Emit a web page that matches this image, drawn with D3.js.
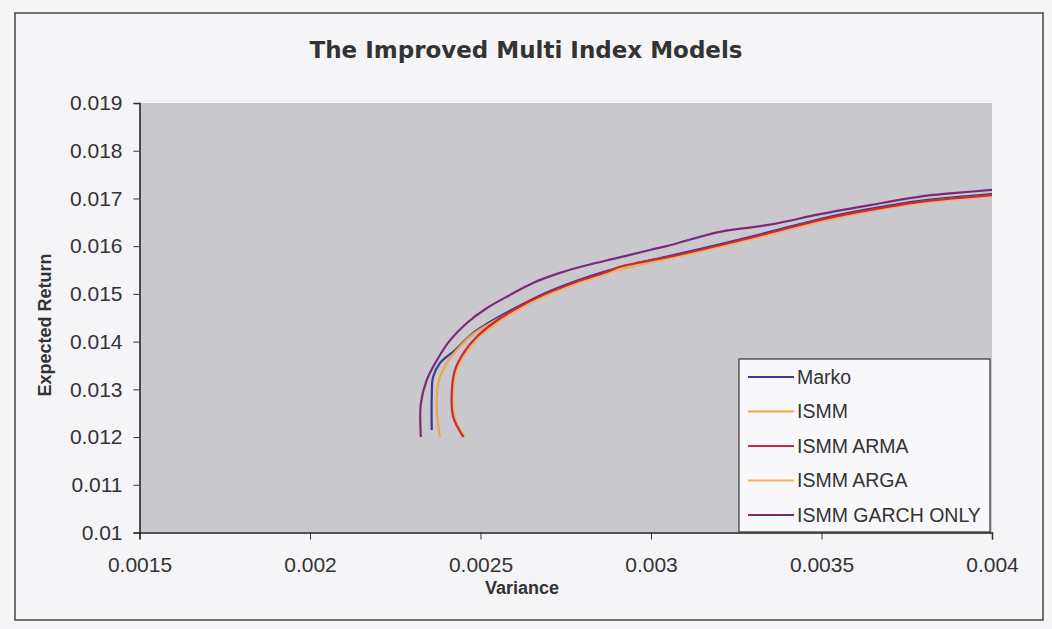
<!DOCTYPE html>
<html>
<head>
<meta charset="utf-8">
<script src="https://d3js.org/d3.v7.min.js"></script>
<style>
  body { margin: 0; background: #f5f5f7; }
  text { font-family: "Liberation Sans", Arial, sans-serif; fill: #333; }
  .tick-label { font-size: 21px; }
  .axis-label { font-size: 18px; font-weight: bold; }
  .title { font-family: "DejaVu Sans", Verdana, sans-serif; font-size: 23px; font-weight: bold; }
  .legend-text { font-size: 19.5px; }
</style>
</head>
<body>
<svg width="1052" height="629"></svg>
<script>
// data: [variance, expected return]
var seriesNames = ['Marko', 'ISMM', 'ISMM ARMA', 'ISMM ARGA', 'ISMM GARCH ONLY'];

var marko = [
  [0.002357, 0.01215], [0.002357, 0.01284], [0.002361, 0.01326], [0.002381, 0.01355],
  [0.002425, 0.01382], [0.002478, 0.01418], [0.002518, 0.01437], [0.002606, 0.01472],
  [0.002684, 0.01500], [0.002772, 0.01525], [0.002870, 0.01548], [0.003056, 0.01580],
  [0.003202, 0.01604], [0.003349, 0.01630], [0.003496, 0.01657], [0.003642, 0.01678],
  [0.003789, 0.01695], [0.004000, 0.01709]
];
var ismm = [
  [0.002381, 0.01200], [0.002372, 0.01256], [0.002376, 0.01313], [0.002401, 0.01355],
  [0.002430, 0.01382], [0.002475, 0.01414], [0.002535, 0.01441], [0.002615, 0.01471],
  [0.002695, 0.01498], [0.002783, 0.01523], [0.002882, 0.01546], [0.003065, 0.01577],
  [0.003212, 0.01601], [0.003358, 0.01627], [0.003505, 0.01653], [0.003651, 0.01675],
  [0.003798, 0.01693], [0.004000, 0.01706]
];
var arma = [
  [0.002450, 0.01200], [0.002420, 0.01242], [0.002416, 0.01298], [0.002425, 0.01340],
  [0.002450, 0.01376], [0.002489, 0.01410], [0.002538, 0.01439], [0.002606, 0.01470],
  [0.002684, 0.01498], [0.002772, 0.01523], [0.002870, 0.01546], [0.002909, 0.01557],
  [0.003056, 0.01578], [0.003202, 0.01602], [0.003349, 0.01628], [0.003496, 0.01655],
  [0.003642, 0.01676], [0.003789, 0.01693], [0.004000, 0.01707]
];
var arga = [
  [0.002455, 0.01200], [0.002425, 0.01242], [0.002421, 0.01298], [0.002430, 0.01340],
  [0.002456, 0.01375], [0.002496, 0.01409], [0.002546, 0.01437], [0.002614, 0.01468],
  [0.002692, 0.01496], [0.002780, 0.01521], [0.002878, 0.01544], [0.002917, 0.01555],
  [0.003064, 0.01576], [0.003210, 0.01600], [0.003357, 0.01626], [0.003504, 0.01653],
  [0.003650, 0.01674], [0.003797, 0.01691], [0.004000, 0.01705]
];
var garch = [
  [0.002325, 0.01200], [0.002325, 0.01270], [0.002342, 0.01319], [0.002372, 0.01361],
  [0.002411, 0.01403], [0.002460, 0.01439], [0.002518, 0.01470], [0.002587, 0.01498],
  [0.002654, 0.01523], [0.002733, 0.01544], [0.002811, 0.01560], [0.002899, 0.01575],
  [0.002997, 0.01592], [0.003056, 0.01602], [0.003202, 0.01630], [0.003349, 0.01645],
  [0.003496, 0.01667], [0.003642, 0.01686], [0.003789, 0.01704], [0.003886, 0.01711],
  [0.004000, 0.01718]
];

var xTicks = [0.0015, 0.002, 0.0025, 0.003, 0.0035, 0.004];
var yTicks = [0.01, 0.011, 0.012, 0.013, 0.014, 0.015, 0.016, 0.017, 0.018, 0.019];

var colors = ['#3b3a8e', '#f0a446', '#c9283e', '#f2b45e', '#7c2a78'];
var seriesData = [marko, ismm, arma, arga, garch];
// drawing order: ARGA sits under ARMA
var drawOrder = [0, 1, 3, 2, 4];

var svg = d3.select('svg');
var plot = {l: 139.5, r: 992, t: 103, b: 532.5};

var xScale = d3.scaleLinear().domain([0.0015, 0.004]).range([plot.l, plot.r]);
var yScale = d3.scaleLinear().domain([0.01, 0.019]).range([plot.b, plot.t]);

// outer chart border
svg.append('rect')
    .attr('x', 15).attr('y', 13)
    .attr('width', 1028).attr('height', 607)
    .attr('fill', '#f5f5f7')
    .attr('stroke', '#444')
    .attr('stroke-width', 1.5);

svg.append('text')
    .attr('class', 'title')
    .attr('x', 526).attr('y', 58)
    .attr('text-anchor', 'middle')
    .text('The Improved Multi Index Models');

// plot background
svg.append('rect')
    .attr('x', plot.l).attr('y', plot.t)
    .attr('width', plot.r - plot.l).attr('height', plot.b - plot.t)
    .attr('fill', '#c9c8cd');

var line = d3.line()
    .x(d => xScale(d[0]))
    .y(d => yScale(d[1]))
    .curve(d3.curveCatmullRom);

drawOrder.forEach(function(i) {
    svg.append('path')
        .datum(seriesData[i])
        .attr('d', line)
        .attr('fill', 'none')
        .attr('stroke', colors[i])
        .attr('stroke-width', 2.2);
});

// axes
var xAxis = d3.axisBottom(xScale).tickValues(xTicks).tickSize(7).tickFormat(d3.format('~g'));
var yAxis = d3.axisLeft(yScale).tickValues(yTicks).tickSize(6).tickFormat(d3.format('~g'));

var gx = svg.append('g')
    .attr('transform', 'translate(0,' + plot.b + ')')
    .call(xAxis);
var gy = svg.append('g')
    .attr('transform', 'translate(' + plot.l + ',0)')
    .call(yAxis);

[gx, gy].forEach(function(g) {
    g.select('.domain').attr('stroke', '#222').attr('stroke-width', 1.5);
    g.selectAll('.tick line').attr('stroke', '#333');
    g.selectAll('.tick text')
        .attr('class', 'tick-label')
        .attr('font-family', null).attr('font-size', null)
        .style('fill', '#333');
});
gx.selectAll('.tick text').attr('dy', '1.4em');
gy.selectAll('.tick text').attr('x', -17);

svg.append('text')
    .attr('class', 'axis-label')
    .attr('x', 522).attr('y', 594)
    .attr('text-anchor', 'middle')
    .text('Variance');

svg.append('text')
    .attr('class', 'axis-label')
    .attr('transform', 'translate(' + [51, 325] + ') rotate(-90)')
    .attr('text-anchor', 'middle')
    .text('Expected Return');

// legend
var legend = svg.append('g').attr('transform', 'translate(739,359)');
legend.append('rect')
    .attr('width', 251).attr('height', 173)
    .attr('fill', '#f8f8fa')
    .attr('stroke', '#333')
    .attr('stroke-width', 1.2);

var rows = legend.selectAll('.legend-row')
    .data(seriesNames)
    .enter()
    .append('g')
    .attr('class', 'legend-row')
    .attr('transform', (d, i) => 'translate(0,' + (18 + i * 34.5) + ')');

rows.append('line')
    .attr('x1', 9).attr('x2', 55)
    .attr('stroke', (d, i) => colors[i])
    .attr('stroke-width', 2.2);

rows.append('text')
    .attr('class', 'legend-text')
    .attr('x', 58).attr('dy', '0.35em')
    .text(d => d);
</script>
</body>
</html>
